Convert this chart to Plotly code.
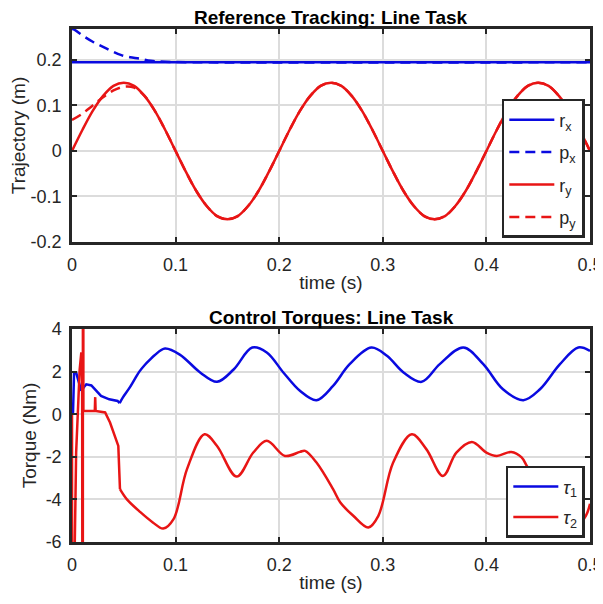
import plotly.graph_objects as go

# ---------------- data: top panel (Reference Tracking) ----------------
t_ref = [round(0.01 * k, 2) for k in range(51)]
r_y = [0, 0.046, 0.088, 0.121, 0.143, 0.150, 0.143, 0.121, 0.088, 0.046,
       0, -0.046, -0.088, -0.121, -0.143, -0.150, -0.143, -0.121, -0.088, -0.046,
       0, 0.046, 0.088, 0.121, 0.143, 0.150, 0.143, 0.121, 0.088, 0.046,
       0, -0.046, -0.088, -0.121, -0.143, -0.150, -0.143, -0.121, -0.088, -0.046,
       0, 0.046, 0.088, 0.121, 0.143, 0.150, 0.143, 0.121, 0.088, 0.046, 0]
p_y = [0.068, 0.082, 0.100, 0.118, 0.133, 0.141, 0.139, 0.121, 0.088, 0.046,
       0, -0.046, -0.088, -0.121, -0.143, -0.150, -0.143, -0.121, -0.088, -0.046,
       0, 0.046, 0.088, 0.121, 0.143, 0.150, 0.143, 0.121, 0.088, 0.046,
       0, -0.046, -0.088, -0.121, -0.143, -0.150, -0.143, -0.121, -0.088, -0.046,
       0, 0.046, 0.088, 0.121, 0.143, 0.150, 0.143, 0.121, 0.088, 0.046, 0]
t_rx = [0, 0.5]
r_x = [0.195, 0.195]
t_px = [0, 0.0026, 0.01, 0.02, 0.028, 0.038, 0.047, 0.056, 0.065, 0.076, 0.09, 0.5]
p_x = [0.268, 0.266, 0.254, 0.240, 0.231, 0.220, 0.211, 0.206, 0.203, 0.198, 0.196, 0.195]

# ---------------- data: bottom panel (Control Torques) ----------------
tau1_early_t = [0, 0.001, 0.002, 0.004, 0.006, 0.009, 0.012, 0.0138, 0.0187, 0.0235,
                0.028, 0.036, 0.044, 0.046]
tau1_early = [0, 0.1, 1.96, 1.96, 1.6, 1.1, 1.3, 1.4, 1.35, 1.1,
              0.86, 0.7, 0.62, 0.52]
tau1_t = [0.046, 0.049, 0.055, 0.06, 0.065, 0.07, 0.075, 0.08, 0.0898, 0.104,
          0.124, 0.14, 0.156, 0.174, 0.188, 0.204, 0.22, 0.236, 0.252, 0.268,
          0.289, 0.304, 0.32, 0.3375, 0.355, 0.3777, 0.397, 0.416, 0.4357, 0.4517,
          0.471, 0.4887, 0.5]
tau1 = [0.52, 0.78, 1.2, 1.6, 2.0, 2.3, 2.55, 2.78, 3.08, 2.8,
        1.95, 1.52, 2.1, 3.13, 2.9, 1.96, 1.1, 0.66, 1.33, 2.35,
        3.13, 2.74, 1.96, 1.52, 2.35, 3.13, 2.35, 1.17, 0.66, 1.17,
        2.35, 3.13, 2.97]

tau2_early_t = [0, 0.0004, 0.0022, 0.0027, 0.004, 0.0058, 0.0074, 0.009, 0.0098, 0.0104,
                0.0106, 0.011, 0.022, 0.0224, 0.0228, 0.028, 0.032, 0.0367, 0.0447, 0.0463]
tau2_early = [0, -30, -30, -6, -1.8, 0.55, 2.1, 2.9, 1.5, -30,
              30, 0.15, 0.15, 0.8, 0.15, 0.12, 0.08, -0.39, -1.49, -3.52]
tau2_t = [0.0463, 0.053, 0.066, 0.078, 0.088, 0.098, 0.111, 0.128, 0.14, 0.159,
          0.175, 0.188, 0.2056, 0.22, 0.225, 0.236, 0.252, 0.259, 0.2715, 0.286,
          0.2957, 0.31, 0.328, 0.342, 0.358, 0.371, 0.386, 0.40, 0.41, 0.424,
          0.434, 0.439, 0.445, 0.452, 0.459, 0.4715, 0.486, 0.496, 0.5]
tau2 = [-3.52, -4.0, -4.6, -5.08, -5.37, -4.93, -2.58, -0.94, -1.49, -2.93,
        -1.8, -1.25, -1.96, -1.77, -1.72, -2.27, -3.52, -4.15, -4.77, -5.32,
        -4.77, -2.27, -0.94, -1.64, -2.9, -1.8, -1.3, -1.8, -1.96, -1.77,
        -2.03, -2.43, -2.9, -3.5, -4.15, -4.77, -5.32, -4.77, -4.2]

x_ticks = [0, 0.1, 0.2, 0.3, 0.4, 0.5]
x_ticktext = ["0", "0.1", "0.2", "0.3", "0.4", "0.5"]
y1_ticks = [-0.2, -0.1, 0, 0.1, 0.2]
y1_ticktext = ["-0.2", "-0.1", "0", "0.1", "0.2"]
y2_ticks = [-6, -4, -2, 0, 2, 4]
y2_ticktext = ["-6", "-4", "-2", "0", "2", "4"]

BLUE = "#0a0ae0"
RED = "#e81515"
LW = 2.5
DASH = "10px,6px"
FONT = "Liberation Sans, Arial, sans-serif"
DARK = "#262626"

fig = go.Figure()
fig.add_trace(go.Scatter(x=t_rx, y=r_x, mode="lines", name="r<sub>x</sub>",
                         line=dict(color=BLUE, width=LW), legendgroup="a",
                         xaxis="x", yaxis="y", legend="legend"))
fig.add_trace(go.Scatter(x=t_px, y=p_x, mode="lines", name="p<sub>x</sub>",
                         line=dict(color=BLUE, width=LW, dash=DASH, shape="spline"),
                         legendgroup="b", xaxis="x", yaxis="y", legend="legend"))
fig.add_trace(go.Scatter(x=t_ref, y=r_y, mode="lines", name="r<sub>y</sub>",
                         line=dict(color=RED, width=LW, shape="spline"),
                         legendgroup="c", xaxis="x", yaxis="y", legend="legend"))
fig.add_trace(go.Scatter(x=t_ref, y=p_y, mode="lines", name="p<sub>y</sub>",
                         line=dict(color=RED, width=LW, dash=DASH, shape="spline"),
                         legendgroup="d", xaxis="x", yaxis="y", legend="legend"))

fig.add_trace(go.Scatter(x=tau1_early_t, y=tau1_early, mode="lines", showlegend=False,
                         line=dict(color=BLUE, width=LW), legendgroup="t1",
                         xaxis="x2", yaxis="y2", legend="legend2"))
fig.add_trace(go.Scatter(x=tau1_t, y=tau1, mode="lines", name="<i>τ</i><sub>1</sub>",
                         line=dict(color=BLUE, width=LW, shape="spline"), legendgroup="t1",
                         xaxis="x2", yaxis="y2", legend="legend2"))
fig.add_trace(go.Scatter(x=tau2_early_t, y=tau2_early, mode="lines", showlegend=False,
                         line=dict(color=RED, width=LW), legendgroup="t2",
                         xaxis="x2", yaxis="y2", legend="legend2"))
fig.add_trace(go.Scatter(x=tau2_t, y=tau2, mode="lines", name="<i>τ</i><sub>2</sub>",
                         line=dict(color=RED, width=LW, shape="spline"), legendgroup="t2",
                         xaxis="x2", yaxis="y2", legend="legend2"))

axis_common = dict(showline=True, linewidth=2.5, linecolor=DARK, mirror="ticks",
                   ticks="inside", ticklen=5, tickwidth=2, tickcolor=DARK,
                   showgrid=True, gridcolor="#dcdcdc", gridwidth=1.5, zeroline=False,
                   automargin=False,
                   tickfont=dict(family=FONT, size=18, color=DARK))
title_font = dict(family=FONT, size=19, color=DARK)

# the page adds an 8px body margin, so the figure is 8px smaller on the left/top
fig.update_layout(
    width=595, height=596,
    margin=dict(l=64, r=13, t=21, b=62),
    paper_bgcolor="white", plot_bgcolor="white",
    font=dict(family=FONT, size=18, color=DARK),
    xaxis=dict(domain=[0, 1], range=[0, 0.5], tickvals=x_ticks, ticktext=x_ticktext,
               anchor="y", ticklabelstandoff=5,
               title=dict(text="time (s)", standoff=2, font=title_font), **axis_common),
    yaxis=dict(domain=[0.5848, 1], range=[-0.2, 0.268], tickvals=y1_ticks,
               ticktext=y1_ticktext, anchor="x", ticklabelstandoff=4,
               title=dict(text="Trajectory (m)", standoff=4, font=title_font), **axis_common),
    xaxis2=dict(domain=[0, 1], range=[0, 0.5], tickvals=x_ticks, ticktext=x_ticktext,
                anchor="y2", ticklabelstandoff=5,
                title=dict(text="time (s)", standoff=2, font=title_font), **axis_common),
    yaxis2=dict(domain=[0, 0.4152], range=[-6, 4], tickvals=y2_ticks,
                ticktext=y2_ticktext, anchor="x2", ticklabelstandoff=4,
                title=dict(text="Torque (Nm)", standoff=4, font=title_font), **axis_common),
    legend=dict(x=0.99, y=0.5926, xanchor="right", yanchor="bottom",
                bgcolor="white", bordercolor=DARK, borderwidth=2.5,
                font=dict(family=FONT, size=18, color=DARK),
                tracegroupgap=6, itemwidth=45),
    legend2=dict(x=0.99, y=0.008, xanchor="right", yanchor="bottom",
                 bgcolor="white", bordercolor=DARK, borderwidth=2.5,
                 font=dict(family=FONT, size=18, color=DARK),
                 tracegroupgap=4, itemwidth=45),
    annotations=[
        dict(text="<b>Reference Tracking: Line Task</b>", xref="paper", yref="paper",
             x=0.5, y=1, xanchor="center", yanchor="bottom", yshift=0, borderpad=0,
             showarrow=False, font=dict(family=FONT, size=19, color="black")),
        dict(text="<b>Control Torques: Line Task</b>", xref="paper", yref="paper",
             x=0.5, y=0.4152, xanchor="center", yanchor="bottom", yshift=0, borderpad=0,
             showarrow=False, font=dict(family=FONT, size=19, color="black")),
    ],
)

fig.write_html("out.html")
